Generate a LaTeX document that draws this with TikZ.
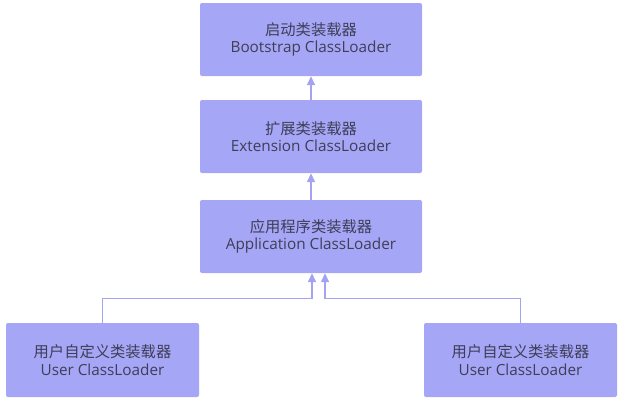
\documentclass[tikz,border=0pt]{standalone}
\usepackage{fontspec}
\setmainfont{Open Sans}
\newfontfamily\cjk{Noto Sans CJK SC}
\usetikzlibrary{arrows.meta}
\definecolor{boxfill}{HTML}{A6A6F6}
\definecolor{linkcol}{HTML}{A3A3F2}
\definecolor{txtcol}{HTML}{3E3E58}
\begin{document}
\begin{tikzpicture}[x=1pt,y=-1pt,
  loader/.style={fill=boxfill, rounded corners=2pt, align=center, text=txtcol,
    font=\fontsize{15.3}{17.5}\selectfont, inner sep=0pt},
  link/.style={draw=linkcol, line width=1.4pt, -{Triangle[width=8pt,length=9pt]}}]
\useasboundingbox (0,0) rectangle (627,400);
\node[loader, minimum width=222pt, minimum height=73pt] (boot) at (311,39.5) {{\cjk 启动类装载器}\\Bootstrap ClassLoader};
\node[loader, minimum width=222pt, minimum height=73pt] (ext) at (311,136.5) {{\cjk 扩展类装载器}\\Extension ClassLoader};
\node[loader, minimum width=222pt, minimum height=73pt] (app) at (311,236.5) {{\cjk 应用程序类装载器}\\Application ClassLoader};
\node[loader, minimum width=193pt, minimum height=74pt] (userl) at (102.5,360) {{\cjk 用户自定义类装载器}\\User ClassLoader};
\node[loader, minimum width=193pt, minimum height=74pt] (userr) at (520.5,360) {{\cjk 用户自定义类装载器}\\User ClassLoader};
\draw[link] (ext) -- (boot);
\draw[link] (app) -- (ext);
\draw[link] (userl.north) |- ([xshift=1pt,yshift=-25pt]app.south) -- ([xshift=1pt]app.south);
\draw[link] (userr.north) |- ([xshift=14pt,yshift=-25pt]app.south) -- ([xshift=14pt]app.south);
\end{tikzpicture}
\end{document}
